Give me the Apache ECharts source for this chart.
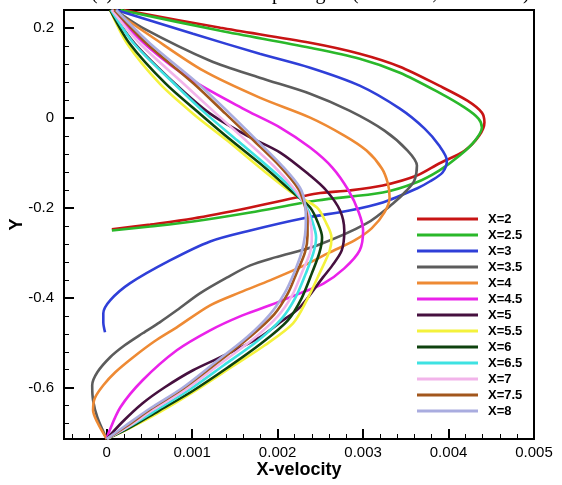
<!DOCTYPE html>
<html>
<head>
<meta charset="utf-8">
<title>X-velocity profiles</title>
<script src="https://cdn.jsdelivr.net/npm/echarts@6/dist/echarts.min.js"></script>
<style>
  html, body { margin: 0; padding: 0; background: #fff; }
  #chart { width: 562px; height: 485px; }
</style>
</head>
<body>
<div id="chart"></div>
<script>
// Streamwise stations shown in the legend
const stationNames = ['X=2', 'X=2.5', 'X=3', 'X=3.5', 'X=4', 'X=4.5', 'X=5',
                      'X=5.5', 'X=6', 'X=6.5', 'X=7', 'X=7.5', 'X=8'];

// Profiles: [x-velocity, Y] pairs for each station
const profileX2 = [[0.00020,0.24],[0.00133,0.2004],[0.00238,0.1671],[0.00296,0.1427],[0.00343,0.1139],
  [0.00389,0.0717],[0.00422,0.0384],[0.00439,0.0118],[0.00442,-0.0104],[0.00436,-0.0393],[0.00419,-0.0726],
  [0.00389,-0.1014],[0.00363,-0.1281],[0.00323,-0.1503],[0.00284,-0.1614],[0.00246,-0.1680],[0.00168,-0.1991],
  [0.00101,-0.2235],[0.00051,-0.2370],[0.00006,-0.2479]];
const profileX2_5 = [[0.00016,0.24],[0.00133,0.1938],[0.00238,0.1560],[0.00296,0.1316],[0.00343,0.1006],
  [0.00389,0.0562],[0.00419,0.0228],[0.00435,-0.0016],[0.00439,-0.0215],[0.00431,-0.0504],[0.00413,-0.0837],
  [0.00389,-0.1170],[0.00362,-0.1436],[0.00323,-0.1658],[0.00246,-0.1836],[0.00168,-0.2102],[0.00101,-0.2302],
  [0.00051,-0.2413],[0.00006,-0.2502]];
const profileX3 = [[0.00011,0.24],[0.00101,0.1871],[0.00179,0.1427],[0.00238,0.1116],[0.00296,0.0717],
  [0.00343,0.0206],[0.00372,-0.0238],[0.00389,-0.0615],[0.00398,-0.0948],[0.00393,-0.1214],[0.00378,-0.1414],
  [0.00363,-0.1569],[0.00323,-0.1880],[0.00284,-0.2058],[0.00229,-0.2235],[0.00168,-0.2502],[0.00121,-0.2746],
  [0.00074,-0.3168],[0.00027,-0.3679],[0.00004,-0.4056],[-0.00004,-0.4345],[-0.00004,-0.4545],[-0.00002,-0.4767]];
const profileX3_5 = [[0.00010,0.24],[0.00042,0.2004],[0.00121,0.1272],[0.00179,0.0895],[0.00238,0.0539],
  [0.00284,0.0162],[0.00325,-0.0282],[0.00352,-0.0726],[0.00363,-0.1059],[0.00360,-0.1392],[0.00351,-0.1614],
  [0.00335,-0.1902],[0.00304,-0.2346],[0.00246,-0.2835],[0.00197,-0.3101],[0.00168,-0.3279],[0.00141,-0.3546],
  [0.00109,-0.3901],[0.00082,-0.4278],[0.00062,-0.4545],[0.00042,-0.4789],[0.00021,-0.5056],[0.00004,-0.5322],
  [-0.00011,-0.5656],[-0.00017,-0.5945],[-0.00016,-0.6278],[-0.00011,-0.6656],[0.0,-0.714]];
const profileX4 = [[0.00007,0.24],[0.00051,0.1827],[0.00113,0.1050],[0.00179,0.0451],[0.00238,0.0007],
  [0.00278,-0.0393],[0.00304,-0.0726],[0.00322,-0.1125],[0.00329,-0.1458],[0.00331,-0.1769],[0.00325,-0.2102],
  [0.00310,-0.2457],[0.00290,-0.2724],[0.00261,-0.2990],[0.00226,-0.3324],[0.00191,-0.3612],[0.00156,-0.3879],
  [0.00121,-0.4167],[0.00082,-0.4656],[0.00056,-0.4967],[0.00031,-0.5322],[0.00010,-0.5656],[-0.00004,-0.5945],
  [-0.00014,-0.6234],[-0.00016,-0.6500],[-0.00011,-0.6767],[0.0,-0.714]];
const profileX4_5 = [[0.00005,0.24],[0.00051,0.1538],[0.00101,0.0828],[0.00164,0.0162],[0.00203,-0.0215],
  [0.00238,-0.0659],[0.00264,-0.1103],[0.00283,-0.1614],[0.00295,-0.2102],[0.00300,-0.2502],[0.00296,-0.2946],
  [0.00278,-0.3346],[0.00254,-0.3679],[0.00226,-0.3901],[0.00191,-0.4167],[0.00156,-0.4412],[0.00121,-0.4723],
  [0.00082,-0.5167],[0.00042,-0.5834],[0.00016,-0.6434],[0.00002,-0.7011],[0.0,-0.714]];
const profileX5 = [[0.00004,0.24],[0.00033,0.1649],[0.00080,0.0761],[0.00121,0.0095],[0.00164,-0.0393],
  [0.00203,-0.0770],[0.00238,-0.1281],[0.00257,-0.1614],[0.00273,-0.2058],[0.00278,-0.2502],[0.00275,-0.2946],
  [0.00264,-0.3279],[0.00253,-0.3546],[0.00226,-0.4212],[0.00203,-0.4545],[0.00179,-0.4878],[0.00138,-0.5278],
  [0.00101,-0.5611],[0.00068,-0.5989],[0.00042,-0.6345],[0.00018,-0.6767],[0.0,-0.714]];
const profileX5_5 = [[0.00004,0.24],[0.00024,0.1649],[0.00062,0.0761],[0.00101,0.0095],[0.00141,-0.0504],
  [0.00179,-0.1103],[0.00218,-0.1680],[0.00246,-0.1991],[0.00257,-0.2346],[0.00263,-0.2657],[0.00261,-0.2946],
  [0.00249,-0.3457],[0.00234,-0.4056],[0.00218,-0.4567],[0.00185,-0.5056],[0.00144,-0.5567],[0.00101,-0.6100],
  [0.00062,-0.6545],[0.00027,-0.6900],[0.0,-0.714]];
const profileX6 = [[0.00004,0.24],[0.00027,0.1649],[0.00069,0.0761],[0.00109,0.0095],[0.00146,-0.0504],
  [0.00185,-0.1103],[0.00218,-0.1658],[0.00238,-0.1991],[0.00247,-0.2324],[0.00252,-0.2657],[0.00249,-0.2990],
  [0.00240,-0.3457],[0.00228,-0.4012],[0.00212,-0.4501],[0.00181,-0.5012],[0.00142,-0.5545],[0.00100,-0.6078],
  [0.00060,-0.6523],[0.00026,-0.6900],[0.0,-0.714]];
const profileX6_5 = [[0.00005,0.24],[0.00032,0.1649],[0.00079,0.0761],[0.00116,0.0095],[0.00153,-0.0504],
  [0.00190,-0.1103],[0.00219,-0.1614],[0.00234,-0.1991],[0.00241,-0.2324],[0.00245,-0.2657],[0.00242,-0.2990],
  [0.00233,-0.3457],[0.00221,-0.3990],[0.00205,-0.4456],[0.00176,-0.4967],[0.00137,-0.5500],[0.00096,-0.6056],
  [0.00058,-0.6500],[0.00025,-0.6878],[0.0,-0.714]];
const profileX7 = [[0.00006,0.24],[0.00039,0.1649],[0.00090,0.0761],[0.00128,0.0095],[0.00163,-0.0504],
  [0.00196,-0.1081],[0.00221,-0.1614],[0.00232,-0.1947],[0.00238,-0.2280],[0.00240,-0.2613],[0.00238,-0.2990],
  [0.00228,-0.3457],[0.00217,-0.3946],[0.00200,-0.4412],[0.00171,-0.4923],[0.00132,-0.5478],[0.00093,-0.6034],
  [0.00055,-0.6478],[0.00024,-0.6878],[0.0,-0.714]];
const profileX7_5 = [[0.00009,0.24],[0.00047,0.1649],[0.00102,0.0761],[0.00139,0.0095],[0.00172,-0.0504],
  [0.00203,-0.1081],[0.00224,-0.1569],[0.00231,-0.1902],[0.00235,-0.2280],[0.00235,-0.2613],[0.00232,-0.2990],
  [0.00222,-0.3457],[0.00212,-0.3901],[0.00196,-0.4367],[0.00167,-0.4878],[0.00130,-0.5434],[0.00090,-0.6011],
  [0.00053,-0.6456],[0.00023,-0.6856],[0.0,-0.714]];
const profileX8 = [[0.00011,0.24],[0.00051,0.1649],[0.00107,0.0761],[0.00144,0.0095],[0.00176,-0.0504],
  [0.00205,-0.1059],[0.00226,-0.1547],[0.00232,-0.1902],[0.00233,-0.2280],[0.00232,-0.2613],[0.00228,-0.2990],
  [0.00219,-0.3457],[0.00208,-0.3901],[0.00191,-0.4367],[0.00164,-0.4878],[0.00127,-0.5434],[0.00088,-0.6011],
  [0.00051,-0.6456],[0.00021,-0.6856],[0.0,-0.714]];

const profiles = [profileX2, profileX2_5, profileX3, profileX3_5, profileX4, profileX4_5, profileX5,
                  profileX5_5, profileX6, profileX6_5, profileX7, profileX7_5, profileX8];

const lineColors = ['#c81414', '#2ab82a', '#2f3fd8', '#5c5c5c', '#ee8a34', '#ea22ea', '#46103f',
                    '#f4f23c', '#0e420e', '#3ee2e2', '#f2b4ea', '#a2561c', '#a9acdf'];

const captionText = '(a) distribution at the spacing of (Re = 100, G/D = 1.5)';

const sansFont = '"Liberation Sans", Arial, sans-serif';

const chart = echarts.init(document.getElementById('chart'), null, { renderer: 'canvas' });

// Shared pieces of the axis styling
const noLine = { show: false, onZero: false };
const majorTick = { inside: true, length: 10, lineStyle: { color: '#000', width: 2 } };
const minorTick = { inside: true, length: 5, lineStyle: { color: '#000', width: 1 } };
const tickLabel = { fontSize: 15, color: '#000', fontFamily: sansFont };
const axisName = { fontFamily: sansFont, fontSize: 18, fontWeight: 'bold', color: '#000' };

chart.setOption({
  animation: false,
  backgroundColor: '#fff',
  // Caption sits above the page edge, so only its lowest strokes show
  graphic: [{
    type: 'text',
    x: 91,
    y: -16,
    silent: true,
    style: {
      text: captionText,
      font: '20px "Liberation Serif", "Times New Roman", serif',
      fill: '#000',
      verticalAlign: 'top'
    }
  }],
  grid: {
    left: 64, top: 10, width: 470, height: 429,
    outerBoundsMode: 'none',
    containLabel: false,
    show: true, borderColor: '#000', borderWidth: 2, backgroundColor: 'transparent'
  },
  legend: {
    data: stationNames,
    orient: 'vertical',
    left: 412, top: 206,
    icon: 'rect',
    itemWidth: 61, itemHeight: 3,
    itemGap: 0,
    selectedMode: false,
    textStyle: { fontFamily: sansFont, fontSize: 13, fontWeight: 'bold', color: '#000', lineHeight: 16, padding: [0, 0, 0, 5] }
  },
  xAxis: [
    {
      type: 'value', min: -0.0005, max: 0.005,
      minInterval: 0.001, maxInterval: 0.001,
      position: 'bottom',
      axisLine: noLine,
      splitLine: { show: false },
      axisTick: majorTick,
      axisLabel: Object.assign({ showMinLabel: false, showMaxLabel: true, margin: 6 }, tickLabel),
      name: 'X-velocity', nameLocation: 'middle', nameGap: 22, nameMoveOverlap: false,
      nameTextStyle: axisName
    },
    {
      type: 'value', min: -0.0005, max: 0.005,
      minInterval: 0.0002, maxInterval: 0.0002,
      position: 'bottom',
      axisLine: noLine,
      splitLine: { show: false },
      axisLabel: { show: false },
      axisTick: minorTick
    }
  ],
  yAxis: [
    {
      type: 'value', min: -0.714, max: 0.24,
      minInterval: 0.2, maxInterval: 0.2,
      position: 'left',
      axisLine: noLine,
      splitLine: { show: false },
      axisTick: majorTick,
      axisLabel: Object.assign({ showMinLabel: false, showMaxLabel: false, margin: 10 }, tickLabel),
      name: 'Y', nameLocation: 'middle', nameGap: 38, nameMoveOverlap: false,
      nameTextStyle: axisName
    },
    {
      type: 'value', min: -0.714, max: 0.24,
      minInterval: 0.04, maxInterval: 0.04,
      position: 'left',
      axisLine: noLine,
      splitLine: { show: false },
      axisLabel: { show: false },
      axisTick: minorTick
    }
  ],
  series: profiles.map((data, i) => ({
    name: stationNames[i],
    type: 'line',
    xAxisIndex: 0,
    yAxisIndex: 0,
    data: data,
    color: lineColors[i],
    showSymbol: false,
    symbol: 'none',
    smooth: 0.3,
    clip: true,
    lineStyle: { width: 2.6, color: lineColors[i] }
  }))
});
</script>
</body>
</html>
